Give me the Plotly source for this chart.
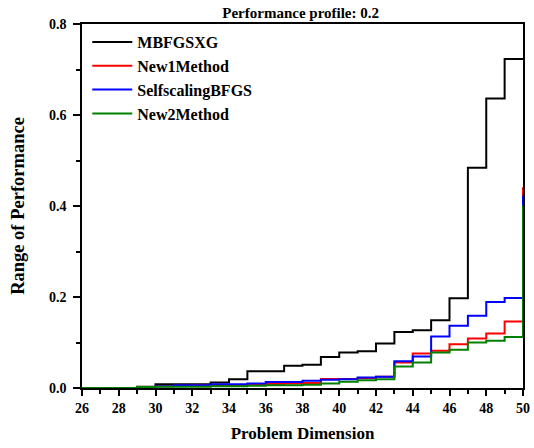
import plotly.graph_objects as go

dims = list(range(26, 51))
mbfgsxg = [0, 0, 0, 0.003, 0.008, 0.008, 0.008, 0.012, 0.019, 0.037, 0.037, 0.049, 0.051,
           0.068, 0.078, 0.081, 0.098, 0.123, 0.127, 0.149, 0.197, 0.484, 0.636, 0.723, 0.723]
new1 = [0, 0, 0, 0.002, 0.004, 0.005, 0.006, 0.006, 0.006, 0.007, 0.009, 0.010, 0.011,
        0.020, 0.020, 0.022, 0.025, 0.056, 0.076, 0.082, 0.096, 0.109, 0.120, 0.146, 0.441]
selfscaling = [0, 0, 0, 0.002, 0.004, 0.006, 0.006, 0.008, 0.008, 0.010, 0.013, 0.013, 0.016,
               0.018, 0.019, 0.023, 0.025, 0.059, 0.069, 0.113, 0.137, 0.159, 0.189, 0.198, 0.423]
new2 = [0, 0, 0, 0.002, 0.003, 0.003, 0.003, 0.004, 0.004, 0.005, 0.006, 0.006, 0.007,
        0.010, 0.014, 0.017, 0.019, 0.047, 0.056, 0.078, 0.084, 0.100, 0.104, 0.112, 0.401]

series = [("MBFGSXG", mbfgsxg, "#000000"),
          ("New1Method", new1, "#ff0000"),
          ("SelfscalingBFGS", selfscaling, "#0000ff"),
          ("New2Method", new2, "#008000")]

FONT = "Liberation Serif, Times New Roman, serif"

fig = go.Figure()
for name, vals, col in series:
    fig.add_trace(go.Scatter(x=dims, y=vals, name=name, mode="lines",
                             line=dict(color=col, width=2, shape="hv")))

fig.update_layout(
    width=534, height=448,
    margin=dict(l=82, r=11, t=24, b=60),
    paper_bgcolor="white", plot_bgcolor="white",
    title=dict(text="Performance profile: 0.2", x=0.563, xanchor="center", y=0.971, yanchor="middle",
               font=dict(family=FONT, size=15, color="black", weight="bold")),
    legend=dict(x=0.012, y=0.997, xanchor="left", yanchor="top", bgcolor="rgba(0,0,0,0)",
                font=dict(family=FONT, size=16, color="black", weight="bold"),
                itemwidth=40, tracegroupgap=0),
    font=dict(family=FONT, color="black"),
)
fig.update_xaxes(
    range=[26, 50], tickmode="array", tickvals=list(range(26, 51, 2)),
    ticks="outside", ticklen=6, tickwidth=1.5, tickcolor="black",
    minor=dict(tickmode="array", tickvals=list(range(27, 50, 2)), ticks="outside", ticklen=4, tickwidth=1.5, tickcolor="black"),
    showline=True, linecolor="black", linewidth=1.5, mirror=True, showgrid=False, zeroline=False,
    tickfont=dict(family=FONT, size=14, color="black", weight="bold"),
    title=dict(text="Problem Dimension", standoff=13,
               font=dict(family=FONT, size=17, color="black", weight="bold")),
    automargin=False,
)
fig.update_yaxes(
    range=[0, 0.8], tickmode="array", tickvals=[0, 0.2, 0.4, 0.6, 0.8],
    ticktext=["0.0", "0.2", "0.4", "0.6", "0.8"],
    ticks="outside", ticklen=7, tickwidth=1.5, tickcolor="black",
    minor=dict(tickmode="array", tickvals=[0.1, 0.3, 0.5, 0.7], ticks="outside", ticklen=4, tickwidth=1.5, tickcolor="black"),
    showline=True, linecolor="black", linewidth=1.5, mirror=True, showgrid=False, zeroline=False,
    tickfont=dict(family=FONT, size=14, color="black", weight="bold"),
    ticklabelstandoff=4,
    title=dict(text="Range of Performance", standoff=19,
               font=dict(family=FONT, size=18.5, color="black", weight="bold")),
    automargin=False,
)

fig.write_html("out.html", config={"displayModeBar": False},
               post_script="document.body.style.margin='0';")
